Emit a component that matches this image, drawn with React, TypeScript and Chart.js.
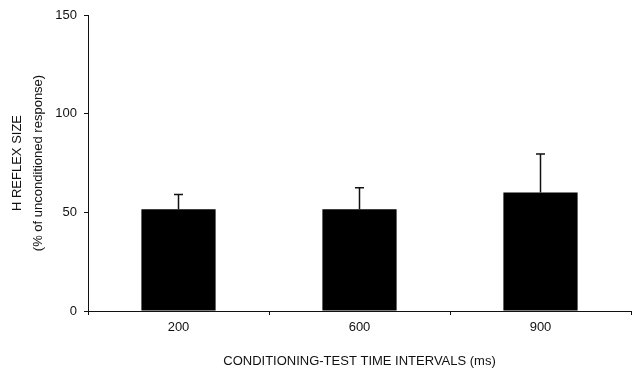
import React, { useEffect, useRef } from "react";
import { Chart, registerables } from "chart.js";

Chart.register(...registerables);

// Conditioning-test intervals (ms) and mean H reflex size with upper SD
const intervals = ["200", "600", "900"];
const reflexSize = [51.5, 51.5, 60];
const reflexSizeUpper = [59, 62.5, 79.5];
const yTicks = [0, 50, 100, 150];

const FONT = 'Arial, "Liberation Sans", sans-serif';
const INK = "#111";

// Draws the upper error whisker with a short cap above each bar
const upperWhiskers = {
  id: "upperWhiskers",
  afterDatasetsDraw(chart: any) {
    const { ctx } = chart;
    const meta = chart.getDatasetMeta(0);
    const yScale = chart.scales.y;
    ctx.save();
    ctx.strokeStyle = INK;
    ctx.lineWidth = 1.5;
    meta.data.forEach((bar: any, i: number) => {
      const x = bar.x;
      const yTop = yScale.getPixelForValue(reflexSizeUpper[i]);
      const yBar = yScale.getPixelForValue(reflexSize[i]);
      ctx.beginPath();
      ctx.moveTo(x, yBar);
      ctx.lineTo(x, yTop);
      ctx.moveTo(x - 4.5, yTop);
      ctx.lineTo(x + 4.5, yTop);
      ctx.stroke();
    });
    ctx.restore();
  },
};

export default function App() {
  const canvasRef = useRef<HTMLCanvasElement>(null);

  useEffect(() => {
    if (!canvasRef.current) return;
    const chart = new Chart(canvasRef.current, {
      type: "bar",
      data: {
        labels: intervals,
        datasets: [
          {
            data: reflexSize,
            backgroundColor: "#000",
            borderWidth: 0,
            barPercentage: 0.41,
            categoryPercentage: 1.0,
          },
        ],
      },
      options: {
        responsive: false,
        animation: false,
        layout: { padding: { top: 15, right: 12, bottom: 0, left: 0 } },
        plugins: {
          legend: { display: false },
          tooltip: { enabled: false },
        },
        scales: {
          x: {
            grid: {
              offset: true,
              drawOnChartArea: false,
              drawTicks: true,
              tickLength: 4,
              color: INK,
              lineWidth: 1,
            },
            border: { display: true, color: INK, width: 1 },
            ticks: {
              color: INK,
              padding: 5,
              font: { family: FONT, size: 13 },
            },
            title: {
              display: true,
              text: "CONDITIONING-TEST TIME INTERVALS (ms)",
              color: INK,
              font: { family: FONT, size: 13 },
              padding: { top: 0, bottom: 0 },
            },
            afterFit(scale: any) {
              scale.height = 58;
            },
          },
          y: {
            min: 0,
            max: 150,
            afterBuildTicks(scale: any) {
              scale.ticks = yTicks.map((v) => ({ value: v }));
            },
            grid: {
              drawOnChartArea: false,
              drawTicks: true,
              tickLength: 4,
              color: INK,
              lineWidth: 1,
            },
            border: { display: true, color: INK, width: 1 },
            ticks: {
              color: INK,
              padding: 7,
              font: { family: FONT, size: 13 },
            },
            title: {
              display: true,
              text: ["H REFLEX SIZE", "(% of unconditioned response)"],
              color: INK,
              font: { family: FONT, size: 13, lineHeight: 21 / 13 },
              padding: { top: 6.5, bottom: 0 },
            },
            afterFit(scale: any) {
              scale.width = 88;
            },
          },
        },
      },
      plugins: [upperWhiskers],
    });
    return () => chart.destroy();
  }, []);

  return (
    <div style={{ position: "absolute", left: 0, top: 0, width: 643, height: 369, background: "#fff" }}>
      <canvas ref={canvasRef} width={643} height={369} />
    </div>
  );
}
